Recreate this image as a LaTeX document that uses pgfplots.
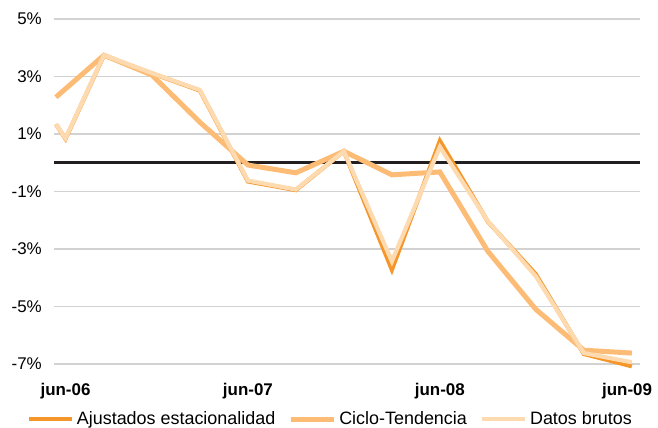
\documentclass[border=0pt]{standalone}
\usepackage{fontspec}
\setmainfont{Liberation Sans}
\usepackage{pgfplots}
\pgfplotsset{compat=1.18}
\definecolor{ajus}{HTML}{F5962A}
\definecolor{ciclo}{HTML}{FDBC76}
\definecolor{datos}{HTML}{FEDAB0}
\definecolor{gridc}{HTML}{D2D2D2}
\definecolor{zeroc}{HTML}{231F20}
\begin{document}
\begin{tikzpicture}
\useasboundingbox (0,0) rectangle (658bp,428bp);
\begin{axis}[
  at={(54bp,64bp)}, anchor=south west,
  scale only axis, width=586bp, height=345bp,
  xmin=-0.04, xmax=12.17, ymin=-7, ymax=5,
  axis line style={draw=none},
  major tick length=0pt,
  ytick={-7,-5,-3,-1,1,3,5},
  yticklabel={\pgfmathprintnumber{\tick}\%},
  /pgf/number format/assume math mode=true,
  yticklabel style={font=\fontsize{17}{20}\selectfont, inner sep=0pt, anchor=east, xshift=-12bp},
  xtick={0.2,4,8,11.9},
  xticklabels={jun-06,jun-07,jun-08,jun-09},
  xticklabel style={font=\bfseries\fontsize{17}{20}\selectfont, inner sep=0pt, anchor=north, yshift=-19bp},
  ymajorgrids, grid style={gridc, line width=1.1bp},
  clip=false,
  legend columns=3,
  legend style={at={(0,0)}, anchor=west, xshift=-27bp, yshift=-55bp,
    draw=none, fill=none, inner sep=0pt,
    font=\fontsize{18}{20}\selectfont,
    nodes={inner sep=2.5bp},
    /tikz/every even column/.append style={column sep=11bp}},
  legend image code/.code={\draw[#1] (0bp,0bp) -- (43bp,0bp);},
  line join=miter,
]
\draw[zeroc, line width=3.2bp] (axis cs:-0.04,0) -- (axis cs:12.17,0);
\addplot[ajus, line width=4.2bp] coordinates {
(0,1.34) (0.2,0.83) (1,3.73) (2,3.11) (3,2.51) (4,-0.65) (5,-0.95) (6,0.40) (7,-3.72) (8,0.76) (9,-2.05) (10,-3.88) (11,-6.65) (12,-7.08)};
\addlegendentry{Ajustados estacionalidad}
\addplot[ciclo, line width=5bp] coordinates {
(0,2.28) (1,3.74) (2,3.05) (3,1.41) (4,-0.08) (5,-0.35) (6,0.40) (7,-0.42) (8,-0.32) (9,-3.08) (10,-5.10) (11,-6.52) (12,-6.62)};
\addlegendentry{Ciclo-Tendencia}
\addplot[datos, line width=4.2bp] coordinates {
(0,1.34) (0.2,0.85) (1,3.74) (2,3.12) (3,2.53) (4,-0.62) (5,-0.93) (6,0.40) (7,-3.43) (8,0.55) (9,-2.03) (10,-3.95) (11,-6.62) (12,-6.94)};
\addlegendentry{Datos brutos}
\end{axis}
\end{tikzpicture}
\end{document}
